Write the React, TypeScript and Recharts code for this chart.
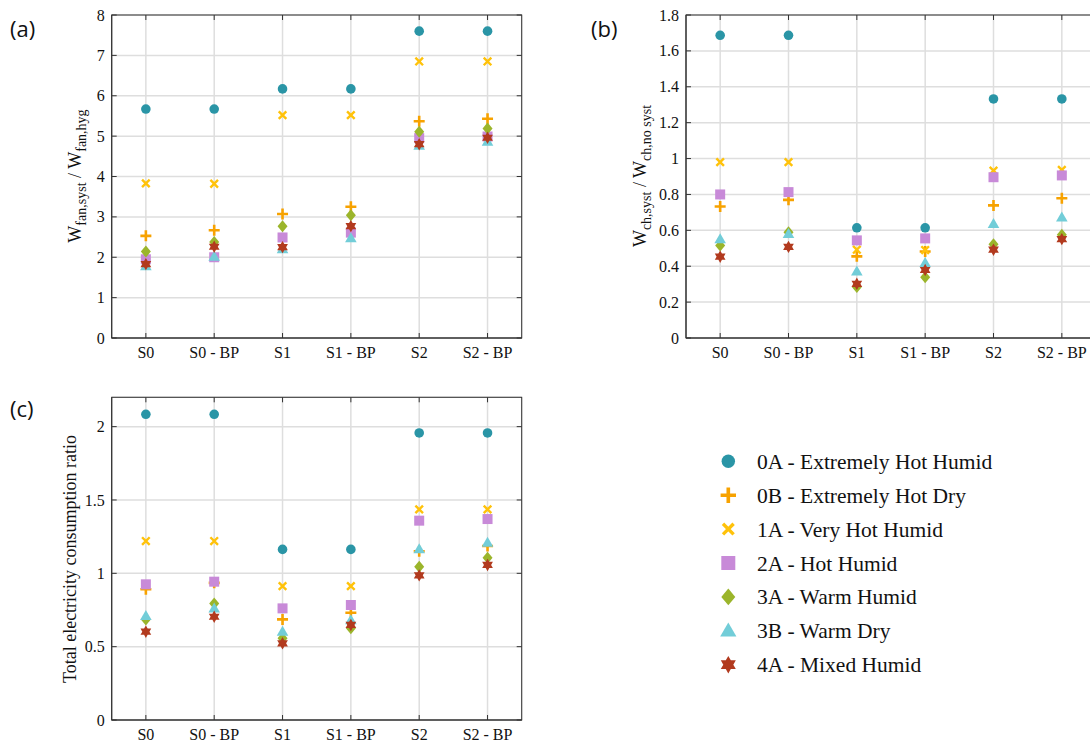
import React from "react";
import { ComposedChart, Scatter, XAxis, YAxis, CartesianGrid } from "recharts";

// Scenario categories on the x axis of every panel
const categories = ["S0", "S0 - BP", "S1", "S1 - BP", "S2", "S2 - BP"];

// Climate zones (legend order == draw order)
const climateNames = [
  "0A - Extremely Hot Humid",
  "0B - Extremely Hot Dry",
  "1A - Very Hot Humid",
  "2A - Hot Humid",
  "3A - Warm Humid",
  "3B - Warm Dry",
  "4A - Mixed Humid",
];
const climateKeys = ["c0A", "c0B", "c1A", "c2A", "c3A", "c3B", "c4A"];
const markerKinds = ["circle", "plus", "cross", "square", "diamond", "triangle", "star"];
const markerColors = ["#2A95A6", "#F7A200", "#FFC20A", "#C88AD8", "#9BB52B", "#72CDD8", "#B23A1E"];

// (a) W_fan,syst / W_fan,hyg — one row per climate, one value per category
const fanRatio = [
  [5.67, 5.67, 6.17, 6.17, 7.6, 7.6],
  [2.53, 2.67, 3.07, 3.25, 5.37, 5.43],
  [3.83, 3.82, 5.52, 5.52, 6.85, 6.85],
  [1.95, 2.0, 2.49, 2.61, 4.95, 4.99],
  [2.14, 2.38, 2.77, 3.04, 5.11, 5.19],
  [1.78, 2.01, 2.2, 2.47, 4.76, 4.86],
  [1.83, 2.26, 2.25, 2.77, 4.8, 4.96],
];
const fanTicks = [0, 1, 2, 3, 4, 5, 6, 7, 8];

// (b) W_ch,syst / W_ch,no syst
const chillerRatio = [
  [1.687, 1.687, 0.614, 0.614, 1.332, 1.332],
  [0.733, 0.77, 0.455, 0.482, 0.739, 0.779],
  [0.98, 0.98, 0.492, 0.49, 0.933, 0.937],
  [0.8, 0.813, 0.544, 0.555, 0.896, 0.906],
  [0.516, 0.59, 0.284, 0.338, 0.523, 0.575],
  [0.551, 0.579, 0.371, 0.418, 0.635, 0.672],
  [0.453, 0.508, 0.302, 0.379, 0.492, 0.551],
];
const chillerTicks = [0, 0.2, 0.4, 0.6, 0.8, 1, 1.2, 1.4, 1.6, 1.8];

// (c) Total electricity consumption ratio
const totalRatio = [
  [2.084, 2.084, 1.163, 1.163, 1.957, 1.957],
  [0.891, 0.935, 0.686, 0.731, 1.15, 1.186],
  [1.22, 1.22, 0.913, 0.913, 1.436, 1.436],
  [0.925, 0.943, 0.761, 0.784, 1.359, 1.37],
  [0.686, 0.795, 0.557, 0.625, 1.045, 1.106],
  [0.709, 0.761, 0.602, 0.68, 1.164, 1.209],
  [0.602, 0.704, 0.523, 0.648, 0.986, 1.057],
];
const totalTicks = [0, 0.5, 1, 1.5, 2];

const SERIF = "'Liberation Serif', 'Times New Roman', serif";
const SANS = "'Open Sans', 'Noto Sans', sans-serif";
const AXIS = "#333";

function Marker({ kind, cx, cy, color, s = 1 }: { kind: string; cx: number; cy: number; color: string; s?: number }) {
  switch (kind) {
    case "circle":
      return <circle cx={cx} cy={cy} r={4.8 * s} fill={color} />;
    case "plus": {
      const h = 5.5 * s;
      return <path d={`M${cx - h},${cy}H${cx + h}M${cx},${cy - h}V${cy + h}`} stroke={color} strokeWidth={2.6 * s} />;
    }
    case "cross": {
      const h = 3.8 * s;
      return (
        <path
          d={`M${cx - h},${cy - h}L${cx + h},${cy + h}M${cx - h},${cy + h}L${cx + h},${cy - h}`}
          stroke={color}
          strokeWidth={2.4 * s}
        />
      );
    }
    case "square":
      return <rect x={cx - 5 * s} y={cy - 5 * s} width={10 * s} height={10 * s} fill={color} />;
    case "diamond":
      return (
        <polygon
          points={`${cx},${cy - 6 * s} ${cx + 5 * s},${cy} ${cx},${cy + 6 * s} ${cx - 5 * s},${cy}`}
          fill={color}
        />
      );
    case "triangle":
      return (
        <polygon
          points={`${cx},${cy - 6 * s} ${cx + 5.8 * s},${cy + 4 * s} ${cx - 5.8 * s},${cy + 4 * s}`}
          fill={color}
        />
      );
    default: {
      // six-pointed star
      const R = 6.2 * s;
      const r = R / Math.sqrt(3);
      const pts: string[] = [];
      for (let k = 0; k < 12; k++) {
        const a = ((-90 + k * 30) * Math.PI) / 180;
        const rr = k % 2 === 0 ? R : r;
        pts.push(`${cx + rr * Math.cos(a)},${cy + rr * Math.sin(a)}`);
      }
      return <polygon points={pts.join(" ")} fill={color} />;
    }
  }
}

type Geo = { left: number; top: number; width: number; height: number };

function Panel({
  values,
  ticks,
  yMax,
  geo,
  chartW,
  chartH,
}: {
  values: number[][];
  ticks: number[];
  yMax: number;
  geo: Geo;
  chartW: number;
  chartH: number;
}) {
  const data = categories.map((name, i) => {
    const row: Record<string, any> = { name };
    climateKeys.forEach((k, j) => (row[k] = values[j][i]));
    return row;
  });
  const right = geo.left + geo.width;
  const bottom = geo.top + geo.height;
  const pad = geo.width / categories.length / 2;

  const yTick = (p: any) => (
    <g>
      <text x={p.x} y={p.y} dy="0.35em" textAnchor="end" fontFamily={SERIF} fontSize={16} fill="#111">
        {p.payload.value}
      </text>
      <line x1={geo.left} x2={geo.left + 5} y1={p.y} y2={p.y} stroke={AXIS} />
      <line x1={right - 5} x2={right} y1={p.y} y2={p.y} stroke={AXIS} />
    </g>
  );
  const xTick = (p: any) => (
    <g>
      <text x={p.x} y={p.y} dy="0.71em" textAnchor="middle" fontFamily={SERIF} fontSize={16} fill="#111">
        {p.payload.value}
      </text>
      <line x1={p.x} x2={p.x} y1={bottom - 5} y2={bottom} stroke={AXIS} />
      <line x1={p.x} x2={p.x} y1={geo.top} y2={geo.top + 5} stroke={AXIS} />
    </g>
  );

  return (
    <div style={{ position: "relative", width: chartW, height: chartH }}>
      <ComposedChart
        width={chartW}
        height={chartH}
        data={data}
        margin={{ top: geo.top, right: chartW - right, bottom: 2, left: 0 }}
      >
        <CartesianGrid stroke="#dedede" strokeWidth={1.5} />
        <XAxis
          dataKey="name"
          type="category"
          padding={{ left: pad, right: pad }}
          height={chartH - bottom - 2}
          axisLine={{ stroke: AXIS }}
          tickLine={false}
          tickSize={0}
          tickMargin={9}
          interval={0}
          tick={xTick}
        />
        <YAxis
          type="number"
          domain={[0, yMax]}
          ticks={ticks}
          width={geo.left}
          axisLine={{ stroke: AXIS }}
          tickLine={false}
          tickSize={0}
          tickMargin={7}
          interval={0}
          tick={yTick}
        />
        {climateKeys.map((k, j) => (
          <Scatter
            key={k}
            dataKey={k}
            name={climateNames[j]}
            isAnimationActive={false}
            shape={(p: any) => <Marker kind={markerKinds[j]} cx={p.cx} cy={p.cy} color={markerColors[j]} />}
          />
        ))}
      </ComposedChart>
      {/* plot frame (top and right edges of the box) */}
      <svg width={chartW} height={chartH} style={{ position: "absolute", left: 0, top: 0, pointerEvents: "none" }}>
        <rect x={geo.left} y={geo.top} width={geo.width} height={geo.height} fill="none" stroke={AXIS} />
      </svg>
    </div>
  );
}

function AxisTitle({ x, y, parts, size = 18, sub = 14 }: { x: number; y: number; parts: [string, boolean][]; size?: number; sub?: number }) {
  let low = false;
  return (
    <text
      x={x}
      y={y}
      transform={`rotate(-90 ${x} ${y})`}
      textAnchor="middle"
      fontFamily={SERIF}
      fill="#111"
      fontSize={size}
    >
      {parts.map(([t, isSub], i) => {
        let dy = 0;
        if (isSub && !low) dy = 5;
        if (!isSub && low) dy = -5;
        low = isSub;
        return (
          <tspan key={i} dy={dy} fontSize={isSub ? sub : size}>
            {t}
          </tspan>
        );
      })}
    </text>
  );
}

export default function App() {
  return (
    <div style={{ position: "absolute", left: 0, top: 0, width: 1090, height: 742, overflow: "hidden", background: "#fff" }}>
      <div style={{ position: "absolute", left: 0, top: 0 }}>
        <Panel values={fanRatio} ticks={fanTicks} yMax={8} geo={{ left: 111.7, top: 15, width: 410, height: 323 }} chartW={540} chartH={370} />
      </div>
      <div style={{ position: "absolute", left: 580, top: 0 }}>
        <Panel values={chillerRatio} ticks={chillerTicks} yMax={1.8} geo={{ left: 106, top: 15, width: 410, height: 323 }} chartW={530} chartH={370} />
      </div>
      <div style={{ position: "absolute", left: 0, top: 380 }}>
        <Panel values={totalRatio} ticks={totalTicks} yMax={2.2} geo={{ left: 111.7, top: 17.3, width: 410, height: 322.7 }} chartW={540} chartH={370} />
      </div>

      <svg width={1090} height={742} style={{ position: "absolute", left: 0, top: 0, pointerEvents: "none" }}>
        <AxisTitle x={81} y={176} parts={[["W", false], ["fan,syst", true], [" / ", false], ["W", false], ["fan,hyg", true]]} />
        <AxisTitle x={646} y={176} parts={[["W", false], ["ch,syst", true], [" / ", false], ["W", false], ["ch,no syst", true]]} />
        <AxisTitle x={76} y={559} parts={[["Total electricity consumption ratio", false]]} />
        <text x={10} y={37} fontFamily={SANS} fontSize={22} fill="#111">(a)</text>
        <text x={591} y={37} fontFamily={SANS} fontSize={22} fill="#111">(b)</text>
        <text x={10} y={417} fontFamily={SANS} fontSize={22} fill="#111">(c)</text>

        {climateNames.map((n, j) => (
          <g key={n}>
            <Marker kind={markerKinds[j]} cx={728.3} cy={461.3 + 33.9 * j} color={markerColors[j]} s={1.4} />
            <text x={757} y={461.3 + 33.9 * j} dy="0.35em" fontFamily={SERIF} fontSize={21.5} fill="#111">
              {n}
            </text>
          </g>
        ))}
      </svg>
    </div>
  );
}
